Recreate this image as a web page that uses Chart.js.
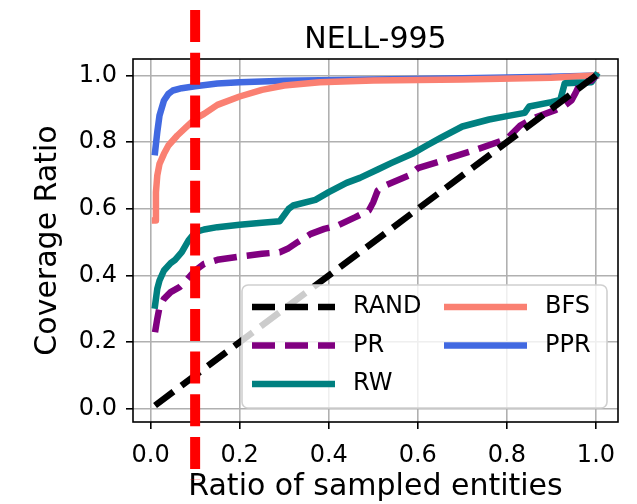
<!DOCTYPE html>
<html><head><meta charset="utf-8">
<script src="https://cdn.jsdelivr.net/npm/chart.js@4.4.1/dist/chart.umd.min.js"></script>
<style>html,body{margin:0;padding:0;background:#fff;overflow:hidden}canvas{display:block}</style>
</head><body>
<canvas id="c" width="637" height="504" style="width:637px;height:504px"></canvas>
<script>
const chartTitle = 'NELL-995';
const xLabel = 'Ratio of sampled entities';
const yLabel = 'Coverage Ratio';
const xTicks = [0, 0.2, 0.4, 0.6, 0.8, 1.0];
const yTicks = [0, 0.2, 0.4, 0.6, 0.8, 1.0];
const seriesNames = ['RAND', 'PR', 'RW', 'BFS', 'PPR'];
const thresholdX = 0.1;

const randX = [0.01, 1.0];
const randY = [0.01, 1.0];

const prX = [0.01,0.015,0.02,0.03,0.045,0.065,0.08,0.1,0.12,0.15,0.2,0.25,0.29,0.31,0.33,0.36,0.39,0.42,0.46,0.49,0.5,0.51,0.53,0.58,0.6,0.65,0.67,0.73,0.8,0.83,0.86,0.91,0.93,0.945,0.955,0.965,0.99,1.0];
const prY = [0.23,0.27,0.305,0.33,0.35,0.365,0.385,0.415,0.435,0.447,0.457,0.465,0.47,0.482,0.5,0.525,0.54,0.55,0.575,0.595,0.62,0.655,0.672,0.70,0.722,0.742,0.752,0.777,0.81,0.85,0.872,0.897,0.91,0.925,0.95,0.977,0.985,1.0];

const rwX = [0.01,0.015,0.02,0.03,0.045,0.055,0.07,0.085,0.1,0.12,0.15,0.2,0.25,0.29,0.31,0.32,0.37,0.4,0.44,0.47,0.51,0.54,0.59,0.62,0.65,0.7,0.76,0.8,0.84,0.85,0.9,0.92,0.93,0.99,1.0];
const rwY = [0.31,0.36,0.385,0.415,0.437,0.447,0.47,0.505,0.53,0.538,0.545,0.552,0.558,0.563,0.6,0.61,0.627,0.65,0.678,0.693,0.718,0.737,0.767,0.79,0.812,0.847,0.868,0.878,0.888,0.907,0.92,0.927,0.977,0.98,1.0];

const bfsX = [0.01,0.012,0.015,0.02,0.03,0.04,0.06,0.08,0.1,0.12,0.15,0.2,0.25,0.3,0.38,0.5,0.7,0.9,1.0];
const bfsY = [0.565,0.65,0.70,0.735,0.765,0.79,0.82,0.845,0.87,0.885,0.912,0.937,0.957,0.97,0.98,0.985,0.988,0.993,1.0];

const pprX = [0.01,0.015,0.02,0.03,0.04,0.05,0.07,0.1,0.15,0.2,0.3,0.5,0.7,0.9,1.0];
const pprY = [0.77,0.83,0.88,0.925,0.945,0.955,0.962,0.968,0.976,0.98,0.984,0.988,0.992,0.996,1.0];

const FONT = "'DejaVu Sans', sans-serif";
const pts = (xs, ys) => xs.map((x, i) => ({x: x, y: ys[i]}));

function lineDs(label, xs, ys, color, dashed) {
  return {
    label: label, data: pts(xs, ys), borderColor: color, backgroundColor: color,
    borderWidth: 6.5, borderDash: dashed ? [23, 10] : [], pointRadius: 0, tension: 0,
    borderCapStyle: dashed ? 'butt' : 'square', borderJoinStyle: 'round', fill: false
  };
}

const datasets = [
  lineDs(seriesNames[0], randX, randY, '#000000', true),
  lineDs(seriesNames[1], prX, prY, '#800080', true),
  lineDs(seriesNames[2], rwX, rwY, '#008080', false),
  lineDs(seriesNames[3], bfsX, bfsY, '#FA8072', false),
  lineDs(seriesNames[4], pprX, pprY, '#4169E1', false)
];

const extras = {
  id: 'extras',
  afterDatasetsDraw(chart) {
    const ctx = chart.ctx, a = chart.chartArea;
    ctx.save();
    ctx.strokeStyle = '#000'; ctx.lineWidth = 1.6; ctx.setLineDash([]);
    ctx.strokeRect(a.left, a.top, a.right - a.left, a.bottom - a.top);
    const lx = a.left + 109, ly = a.top + 226, lw = 365, lh = 123, r = 6;
    ctx.beginPath();
    ctx.moveTo(lx + r, ly); ctx.lineTo(lx + lw - r, ly); ctx.arcTo(lx + lw, ly, lx + lw, ly + r, r);
    ctx.lineTo(lx + lw, ly + lh - r); ctx.arcTo(lx + lw, ly + lh, lx + lw - r, ly + lh, r);
    ctx.lineTo(lx + r, ly + lh); ctx.arcTo(lx, ly + lh, lx, ly + lh - r, r);
    ctx.lineTo(lx, ly + r); ctx.arcTo(lx, ly, lx + r, ly, r); ctx.closePath();
    ctx.fillStyle = 'rgba(255,255,255,0.8)'; ctx.fill();
    ctx.strokeStyle = '#d0d0d0'; ctx.lineWidth = 1.6; ctx.stroke();
    ctx.font = '24px ' + FONT; ctx.textBaseline = 'middle'; ctx.textAlign = 'left'; ctx.fillStyle = '#000';
    chart.data.datasets.forEach((ds, i) => {
      const col = i < 3 ? 0 : 1, row = i < 3 ? i : i - 3;
      const hx = lx + 10 + col * 192, hy = ly + 22 + row * 38.5;
      ctx.beginPath(); ctx.strokeStyle = ds.borderColor; ctx.lineWidth = ds.borderWidth;
      ctx.setLineDash(ds.borderDash); ctx.lineCap = 'butt';
      ctx.moveTo(hx, hy); ctx.lineTo(hx + 83, hy); ctx.stroke();
      ctx.setLineDash([]);
      ctx.fillText(ds.label, hx + 101, hy);
    });
    const px = chart.scales.x.getPixelForValue(thresholdX);
    ctx.beginPath(); ctx.strokeStyle = '#FF0000'; ctx.lineWidth = 10; ctx.lineCap = 'butt';
    ctx.setLineDash([32, 10.7]);
    ctx.moveTo(px, 10); ctx.lineTo(px, chart.height - 24); ctx.stroke();
    ctx.restore();
  }
};

new Chart(document.getElementById('c'), {
  type: 'line',
  data: { datasets: datasets },
  options: {
    responsive: false, animation: false, devicePixelRatio: 1,
    layout: { padding: { left: 0, right: 19, top: 0, bottom: 0 } },
    plugins: {
      legend: { display: false }, tooltip: { enabled: false },
      title: { display: true, text: chartTitle, fullSize: false, color: '#000',
               font: { family: FONT, size: 30, weight: 'normal', lineHeight: 1.2 }, padding: { top: 22, bottom: 1 } }
    },
    scales: {
      x: {
        type: 'linear', min: -0.0395, max: 1.0495,
        afterBuildTicks: s => { s.ticks = xTicks.map(v => ({ value: v })); },
        afterFit: s => { s.height = 82; },
        ticks: { callback: v => v.toFixed(1), color: '#000', font: { family: FONT, size: 24 }, padding: 12, maxRotation: 0, autoSkip: false },
        grid: { color: '#b0b0b0', lineWidth: 1.6, tickColor: '#000', tickLength: 7, tickWidth: 1.6 },
        border: { display: false },
        title: { display: true, text: xLabel, color: '#000', font: { family: FONT, size: 30, lineHeight: 1.1 }, padding: { top: 0, bottom: 0 } }
      },
      y: {
        type: 'linear', min: -0.0395, max: 1.0495,
        afterBuildTicks: s => { s.ticks = yTicks.map(v => ({ value: v })); },
        afterFit: s => { s.width = 133; },
        ticks: { callback: v => v.toFixed(1), color: '#000', font: { family: FONT, size: 24 }, padding: 9, autoSkip: false },
        grid: { color: '#b0b0b0', lineWidth: 1.6, tickColor: '#000', tickLength: 7, tickWidth: 1.6 },
        border: { display: false },
        title: { display: true, text: yLabel, color: '#000', font: { family: FONT, size: 30, lineHeight: 1.2 }, padding: { top: 30, bottom: 0 } }
      }
    }
  },
  plugins: [extras]
});
</script>
</body></html>
